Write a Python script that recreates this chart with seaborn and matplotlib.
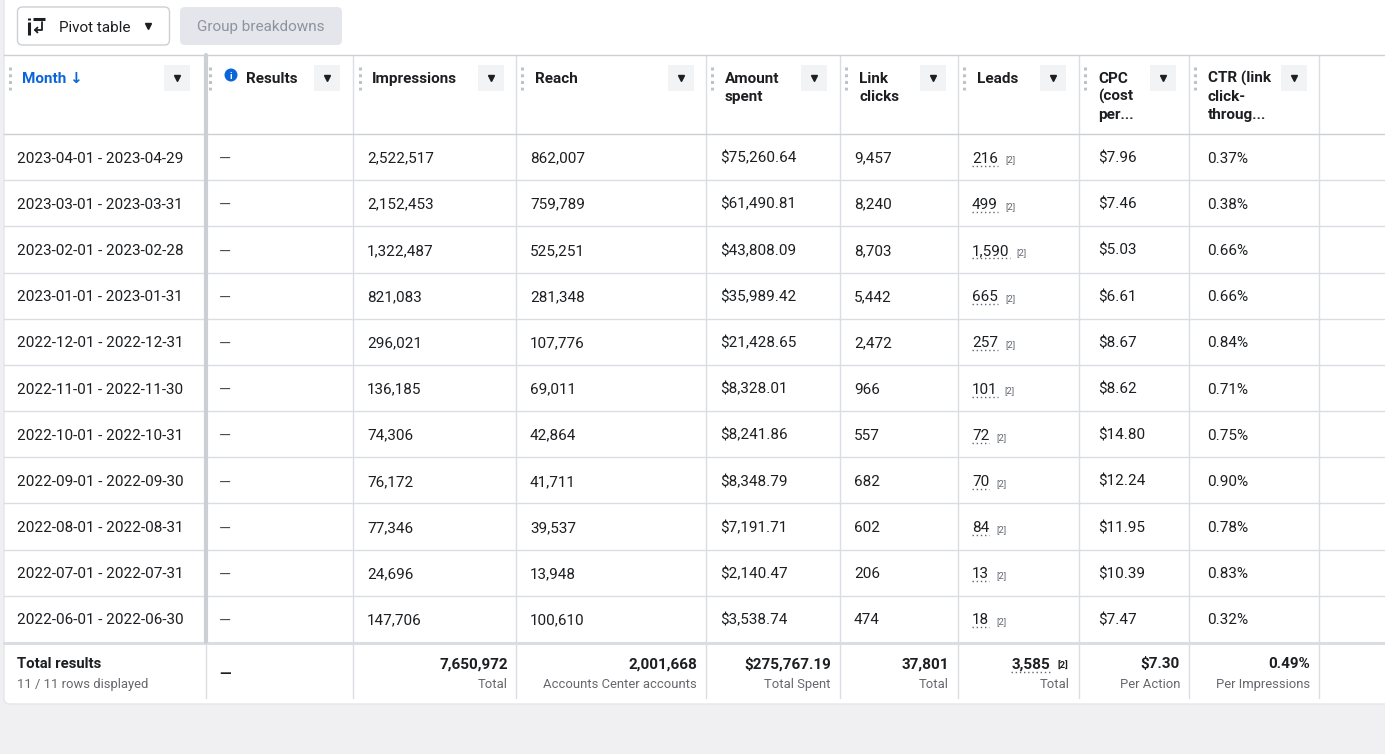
import matplotlib
matplotlib.use("Agg")
import matplotlib.pyplot as plt
from matplotlib.patches import FancyBboxPatch, Rectangle, Circle
import seaborn as sns

# ---------------- data ----------------
months = ["2023-04-01 - 2023-04-29", "2023-03-01 - 2023-03-31", "2023-02-01 - 2023-02-28",
          "2023-01-01 - 2023-01-31", "2022-12-01 - 2022-12-31", "2022-11-01 - 2022-11-30",
          "2022-10-01 - 2022-10-31", "2022-09-01 - 2022-09-30", "2022-08-01 - 2022-08-31",
          "2022-07-01 - 2022-07-31", "2022-06-01 - 2022-06-30"]
impressions = [2522517, 2152453, 1322487, 821083, 296021, 136185, 74306, 76172, 77346, 24696, 147706]
reach = [862007, 759789, 525251, 281348, 107776, 69011, 42864, 41711, 39537, 13948, 100610]
amount_spent = [75260.64, 61490.81, 43808.09, 35989.42, 21428.65, 8328.01, 8241.86, 8348.79,
                7191.71, 2140.47, 3538.74]
link_clicks = [9457, 8240, 8703, 5442, 2472, 966, 557, 682, 602, 206, 474]
leads = [216, 499, 1590, 665, 257, 101, 72, 70, 84, 13, 18]
cpc = [7.96, 7.46, 5.03, 6.61, 8.67, 8.62, 14.80, 12.24, 11.95, 10.39, 7.47]
ctr = [0.37, 0.38, 0.66, 0.66, 0.84, 0.71, 0.75, 0.90, 0.78, 0.83, 0.32]

total_impressions = 7650972
total_reach = 2001668
total_amount = 275767.19
total_link_clicks = 37801
total_leads = 3585
total_cpc = 7.30
total_ctr = 0.49

headers = [["Month ↓"], ["Results"], ["Impressions"], ["Reach"], ["Amount", "spent"],
           ["Link", "clicks"], ["Leads"], ["CPC", "(cost", "per..."], ["CTR (link", "click-", "throug..."]]
total_labels = ["Total", "Accounts Center accounts", "Total Spent", "Total", "Total",
                "Per Action", "Per Impressions"]

# ---------------- style ----------------
sns.set_theme(style="white")
plt.rcParams['font.family'] = ['Roboto', 'DejaVu Sans']

W, H = 1385, 754
fig = plt.figure(figsize=(W / 100, H / 100), dpi=100)
fig.patch.set_facecolor("#f0eff2")
ax = fig.add_axes([0, 0, 1, 1])
ax.set_xlim(0, W)
ax.set_ylim(H, 0)
ax.axis("off")
sns.despine(ax=ax, left=True, bottom=True)

PX = 0.72  # px -> pt at dpi 100
TXT = "#1c1e21"
GRAY = "#65676b"
LINE = "#dadde1"
FS = 15.3 * PX
SUB = 13 * PX
BL = 5.5  # baseline offset from visual centre

# card
card = FancyBboxPatch((4, -20), W + 20, 724, boxstyle="round,pad=0,rounding_size=6",
                      fc="white", ec="#e4e6eb", lw=1, zorder=0)
ax.add_patch(card)

# buttons
b1 = FancyBboxPatch((17.5, 7), 152, 38, boxstyle="round,pad=0,rounding_size=5",
                    fc="white", ec="#ccd0d5", lw=1, zorder=1)
ax.add_patch(b1)
b2 = FancyBboxPatch((180, 7), 162, 38, boxstyle="round,pad=0,rounding_size=5",
                    fc="#e4e6eb", ec="none", zorder=1)
ax.add_patch(b2)
ax.text(59, 26 + BL, "Pivot table", fontsize=FS, color=TXT, va="baseline", ha="left")
ax.plot([148], [26], marker="v", ms=4.8, color=TXT, zorder=3)
ax.text(261, 26 + BL, "Group breakdowns", fontsize=FS, color="#8d949e", va="baseline", ha="center")
# pivot icon
ax.plot([33, 45], [18.5, 18.5], color=TXT, lw=2.2, solid_capstyle="butt")
ax.plot([29, 29], [22, 35], color=TXT, lw=2.2, solid_capstyle="butt")
ax.plot([29, 29], [17.5, 19.5], color=TXT, lw=2.2, solid_capstyle="butt")
ax.plot([42, 42, 35], [22, 30, 30], color=TXT, lw=1.3)
ax.plot([37.5, 35, 37.5], [27.5, 30, 32.5], color=TXT, lw=1.3)

# ---------------- table geometry ----------------
col_edges = [4, 206, 353, 516, 706, 840, 958, 1079, 1189, 1319]
head_top, head_bot = 55, 134
body_bot = 642
n = len(months)
row_h = (body_bot - head_bot) / n
foot_bot = 698

ax.plot([4, W], [head_top, head_top], color="#ccd0d5", lw=1)
ax.plot([4, W], [head_bot, head_bot], color="#ccd0d5", lw=1)
for i in range(1, n):
    y = head_bot + i * row_h
    ax.plot([4, W], [y, y], color=LINE, lw=1)
ax.plot([4, W], [body_bot + 1, body_bot + 1], color="#dadde1", lw=2.2)

for x in col_edges[1:]:
    ax.plot([x, x], [head_top, foot_bot], color=LINE, lw=1, zorder=1)
ax.plot([205.5, 205.5], [head_top, body_bot], color="#ccd0d5", lw=3, zorder=2)

# header
head_x = [22, 246, 372, 535, 725, 859, 977, 1098, 1208]
handle_x = [10, 210, 360, 522, 712, 846, 964, 1085, 1195]
dd_x = [164, 314, 478, 668, 801, 920, 1040, 1150, 1281]
for j, lines in enumerate(headers):
    for k, line in enumerate(lines):
        ax.text(head_x[j], 77.5 + BL + k * 18, line, fontsize=FS, fontweight="bold",
                color="#0a66d8" if j == 0 else TXT, va="baseline", ha="left")
    ax.plot([handle_x[j], handle_x[j]], [67, 90], color="#bec3c9", lw=2.2,
            linestyle=(0, (1, 1.2)), zorder=3)
    ax.add_patch(Rectangle((dd_x[j], 65), 26, 26, fc="#f2f3f5", ec="none", zorder=2))
    ax.plot([dd_x[j] + 13], [78], marker="v", ms=4.5, color=TXT, zorder=3)
ax.add_patch(Circle((231, 75), 6.5, fc="#0a66d8", ec="none", zorder=3))
ax.text(231, 79, "i", fontsize=9.5 * PX, fontweight="bold", color="white", va="baseline",
        ha="center", zorder=4)

# ---------------- body ----------------
fig.canvas.draw()
renderer = fig.canvas.get_renderer()
inv = ax.transData.inverted()


def text_span(t):
    bb = t.get_window_extent(renderer=renderer)
    (x0, _), (x1, _) = inv.transform([[bb.x0, bb.y0], [bb.x1, bb.y1]])
    return x0, x1


for i in range(n):
    yc = head_bot + (i + 0.5) * row_h
    yb = yc + BL
    kw = dict(fontsize=FS, color=TXT, va="baseline", ha="left")
    ax.text(17, yb, months[i], **kw)
    ax.text(219, yb + 1.5, "—", fontsize=FS, color="#444950", va="baseline", ha="left")
    ax.text(367, yb, f"{impressions[i]:,}", **kw)
    ax.text(530, yb, f"{reach[i]:,}", **kw)
    ax.text(720, yb, f"${amount_spent[i]:,.2f}", **kw)
    ax.text(854, yb, f"{link_clicks[i]:,}", **kw)
    t = ax.text(972, yb, f"{leads[i]:,}", **kw)
    x0, x1 = text_span(t)
    ax.plot([x0, x1], [yb + 3, yb + 3], color="#606770", lw=1, linestyle=(0, (1, 2)))
    ax.text(x1 + 7, yb, "[2]", fontsize=9.5 * PX, color="#606770", va="baseline", ha="left")
    ax.text(1098, yb, f"${cpc[i]:.2f}", **kw)
    ax.text(1207, yb, f"{ctr[i]:.2f}%", **kw)

# ---------------- totals ----------------
y1, y2 = 663 + BL, 683 + 4.6
ax.text(17, y1, "Total results", fontsize=FS * 0.97, fontweight="bold", color=TXT, va="baseline")
ax.text(17, y2, "11 / 11 rows displayed", fontsize=SUB, color=GRAY, va="baseline")
ax.text(219, 672 + BL + 1, "—", fontsize=FS, fontweight="bold", color=TXT, va="baseline")
tot_vals = [f"{total_impressions:,}", f"{total_reach:,}", f"${total_amount:,.2f}",
            f"{total_link_clicks:,}", None, f"${total_cpc:.2f}", f"{total_ctr:.2f}%"]
rights = [508, 697, 831, 949, 1070, 1180, 1310]
for v, r, lab in zip(tot_vals, rights, total_labels):
    if v is not None:
        ax.text(r, y1, v, fontsize=FS, fontweight="bold", color=TXT, va="baseline", ha="right")
    ax.text(r, y2, lab, fontsize=SUB, color=GRAY, va="baseline", ha="right")
ax.text(1058, y1, "[2]", fontsize=9.5 * PX, fontweight="bold", color=TXT, va="baseline", ha="left")
tl = ax.text(1050, y1, f"{total_leads:,}", fontsize=FS, fontweight="bold", color=TXT,
             va="baseline", ha="right")
x0, x1 = text_span(tl)
ax.plot([x0, x1], [y1 + 3, y1 + 3], color="#606770", lw=1, linestyle=(0, (1, 2)))

fig.savefig("out.png", dpi=100, facecolor=fig.get_facecolor())
